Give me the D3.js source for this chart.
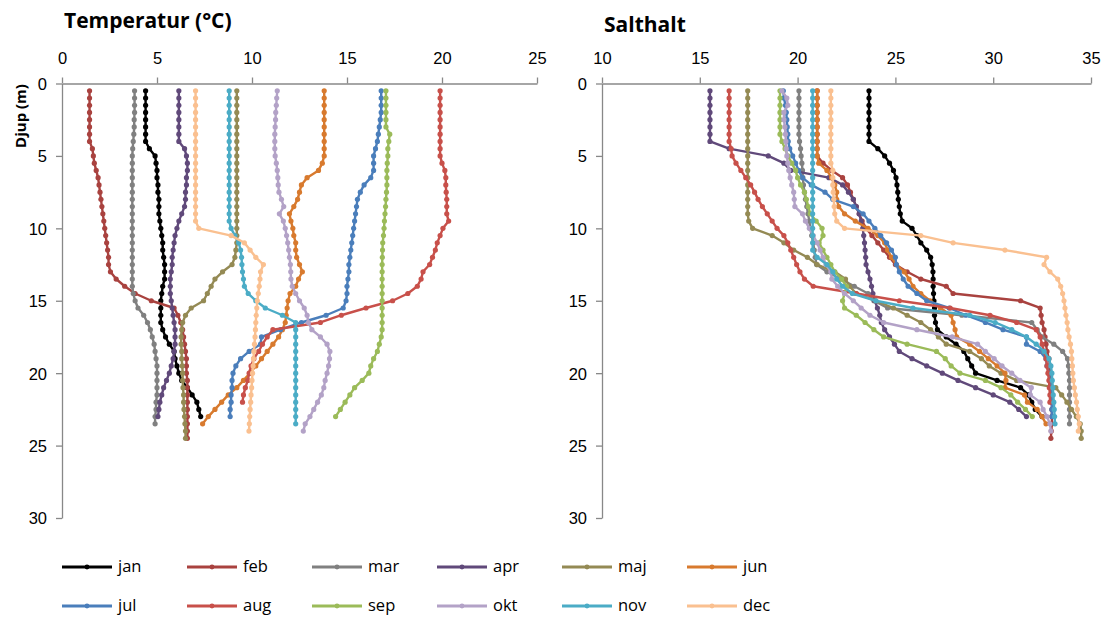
<!DOCTYPE html>
<html>
<head>
<meta charset="utf-8">
<script src="https://cdn.jsdelivr.net/npm/d3@7/dist/d3.min.js"></script>
<style>
  body { margin: 0; background: #fff; }
  svg { display: block; font-family: "Open Sans", Lato, sans-serif; }
  .axis path, .axis line { stroke: #888; stroke-width: 1.3; }
  .axis text { font-size: 16.5px; fill: #000; }
</style>
</head>
<body>
<svg id="chart" width="1107" height="622"></svg>
<script>
"use strict";

var months = ['jan', 'feb', 'mar', 'apr', 'maj', 'jun', 'jul', 'aug', 'sep', 'okt', 'nov', 'dec'];
var colors = ['#000000', '#A9423F', '#808080', '#60497A', '#948A54', '#D87A2E',
              '#4A7EBB', '#C8504A', '#9BBB59', '#B3A2C7', '#4BACC6', '#FAC090'];

// depth (m) of each measurement, 0.5 m steps
var depth = [0.5, 1, 1.5, 2, 2.5, 3, 3.5, 4, 4.5, 5, 5.5, 6, 6.5, 7, 7.5, 8, 8.5, 9, 9.5, 10,
             10.5, 11, 11.5, 12, 12.5, 13, 13.5, 14, 14.5, 15, 15.5, 16, 16.5, 17, 17.5, 18, 18.5, 19, 19.5, 20,
             20.5, 21, 21.5, 22, 22.5, 23, 23.5, 24, 24.5];

var tempTicks = [0, 5, 10, 15, 20, 25];
var saltTicks = [10, 15, 20, 25, 30, 35];
var depthTicks = [0, 5, 10, 15, 20, 25, 30];

// temperatur (°C)
var tJan = [4.4, 4.4, 4.4, 4.4, 4.4, 4.4, 4.4, 4.4, 4.6, 4.9, 4.95, 5.0, 5.0, 5.05, 5.05, 5.1, 5.1, 5.1, 5.15, 5.2,
            5.25, 5.3, 5.3, 5.35, 5.4, 5.4, 5.4, 5.3, 5.25, 5.2, 5.2, 5.2, 5.2, 5.3, 5.45, 5.65, 5.9, 5.95, 6.05, 6.15,
            6.3, 6.6, 6.85, 7.1, 7.2, 7.3];
var tFeb = [1.45, 1.45, 1.45, 1.45, 1.45, 1.45, 1.45, 1.45, 1.6, 1.65, 1.7, 1.8, 1.9, 1.95, 2.0, 2.05, 2.1, 2.15, 2.2, 2.25,
            2.3, 2.35, 2.4, 2.45, 2.45, 2.55, 2.85, 3.3, 3.85, 4.7, 5.9, 6.1, 6.25, 6.35, 6.4, 6.45, 6.5, 6.55, 6.55, 6.55,
            6.6, 6.6, 6.6, 6.6, 6.6, 6.6, 6.6, 6.6, 6.6];
var tMar = [3.82, 3.82, 3.82, 3.82, 3.8, 3.8, 3.78, 3.75, 3.72, 3.7, 3.7, 3.7, 3.7, 3.7, 3.7, 3.7, 3.7, 3.7, 3.7, 3.7,
            3.7, 3.7, 3.7, 3.7, 3.7, 3.7, 3.7, 3.7, 3.75, 3.85, 4.0, 4.3, 4.5, 4.65, 4.75, 4.85, 4.9, 4.95, 5.0, 5.0,
            5.0, 5.0, 5.0, 4.95, 4.95, 4.9, 4.9];
var tApr = [6.15, 6.15, 6.15, 6.15, 6.15, 6.15, 6.15, 6.15, 6.45, 6.55, 6.6, 6.6, 6.55, 6.55, 6.5, 6.5, 6.45, 6.3, 6.15, 6.05,
            5.95, 5.9, 5.85, 5.8, 5.8, 5.75, 5.7, 5.7, 5.7, 5.75, 5.8, 5.85, 5.9, 5.95, 5.95, 5.95, 5.9, 5.85, 5.75, 5.65,
            5.5, 5.35, 5.25, 5.15, 5.1, 5.05];
var tMaj = [9.2, 9.2, 9.2, 9.2, 9.2, 9.2, 9.2, 9.2, 9.2, 9.2, 9.2, 9.2, 9.2, 9.2, 9.2, 9.2, 9.2, 9.2, 9.2, 9.2,
            9.2, 9.2, 9.15, 9.1, 8.95, 8.45, 8.05, 7.85, 7.65, 7.45, 6.8, 6.5, 6.35, 6.3, 6.27, 6.27, 6.3, 6.3, 6.33, 6.35,
            6.35, 6.37, 6.4, 6.4, 6.42, 6.45, 6.47, 6.5, 6.5];
var tJun = [13.8, 13.8, 13.8, 13.8, 13.8, 13.8, 13.8, 13.8, 13.8, 13.8, 13.7, 13.5, 12.9, 12.6, 12.5, 12.4, 12.2, 11.97, 12.05, 12.15,
            12.2, 12.3, 12.3, 12.35, 12.5, 12.65, 12.45, 12.3, 12.0, 11.9, 11.85, 11.8, 11.75, 11.6, 11.4, 11.1, 10.8, 10.5, 10.2, 9.9,
            9.55, 9.2, 8.75, 8.4, 8.05, 7.7, 7.4];
var tJul = [16.8, 16.8, 16.8, 16.8, 16.75, 16.7, 16.65, 16.6, 16.5, 16.4, 16.4, 16.4, 16.25, 15.9, 15.7, 15.55, 15.5, 15.45, 15.4, 15.35,
            15.3, 15.25, 15.2, 15.15, 15.1, 15.1, 15.05, 15.0, 15.0, 14.95, 14.8, 13.9, 12.6, 11.5, 10.5, 10.45, 9.85, 9.4, 9.15, 9.0,
            8.95, 8.95, 8.9, 8.9, 8.85, 8.85];
var tAug = [19.9, 19.9, 19.9, 19.9, 19.9, 19.9, 19.9, 19.9, 19.9, 19.9, 20.0, 20.15, 20.2, 20.2, 20.22, 20.25, 20.25, 20.25, 20.35, 20.05,
            19.9, 19.75, 19.65, 19.5, 19.35, 19.0, 18.9, 18.7, 18.2, 17.4, 16.0, 14.7, 13.6, 11.1, 10.8, 10.55, 10.35, 10.1, 9.95, 9.85,
            9.78, 9.65, 9.55, 9.5];
var tSep = [17.05, 17.05, 17.05, 17.05, 17.05, 17.05, 17.25, 17.2, 17.15, 17.15, 17.12, 17.1, 17.1, 17.1, 17.08, 17.05, 17.03, 17.0, 16.97, 16.95,
            16.92, 16.88, 16.87, 16.86, 16.85, 16.85, 16.85, 16.85, 16.85, 16.85, 16.85, 16.85, 16.85, 16.85, 16.8, 16.7, 16.6, 16.4, 16.25, 16.15,
            15.8, 15.4, 15.15, 14.9, 14.65, 14.4];
var tOkt = [11.33, 11.3, 11.28, 11.25, 11.24, 11.22, 11.2, 11.2, 11.2, 11.22, 11.28, 11.33, 11.36, 11.38, 11.42, 11.55, 11.67, 11.44, 11.65, 11.75,
            11.82, 11.88, 11.93, 11.97, 12.02, 12.04, 12.05, 12.12, 12.3, 12.5, 12.75, 12.9, 12.97, 13.15, 13.6, 13.95, 14.1, 14.08, 14.03, 13.95,
            13.85, 13.78, 13.65, 13.45, 13.25, 13.05, 12.8, 12.7];
var tNov = [8.8, 8.8, 8.8, 8.8, 8.8, 8.8, 8.8, 8.8, 8.8, 8.8, 8.8, 8.8, 8.8, 8.8, 8.8, 8.8, 8.8, 8.8, 8.8, 8.9,
            9.1, 9.3, 9.4, 9.45, 9.47, 9.5, 9.55, 9.6, 9.8, 10.2, 10.7, 11.6, 12.3, 12.3, 12.3, 12.3, 12.3, 12.3, 12.3, 12.3,
            12.3, 12.3, 12.3, 12.3, 12.3, 12.3, 12.3];
var tDec = [7.03, 7.03, 7.03, 7.03, 7.03, 7.03, 7.03, 7.03, 7.03, 7.03, 7.03, 7.03, 7.03, 7.03, 7.03, 7.03, 7.03, 7.03, 7.03, 7.2,
            8.9, 9.6, 9.9, 10.2, 10.6, 10.45, 10.42, 10.38, 10.33, 10.28, 10.25, 10.22, 10.2, 10.18, 10.16, 10.13, 10.1, 10.08, 10.06, 10.03,
            10.0, 9.98, 9.95, 9.93, 9.9, 9.88, 9.86, 9.84];

// salthalt
var sJan = [23.65, 23.65, 23.65, 23.65, 23.65, 23.65, 23.65, 23.65, 24.1, 24.45, 24.7, 24.9, 25.03, 25.08, 25.12, 25.15, 25.2, 25.25, 25.35, 25.85,
            26.1, 26.3, 26.6, 26.8, 26.88, 26.92, 26.93, 26.93, 26.95, 26.97, 27.0, 27.0, 27.05, 27.15, 27.6, 28.1, 28.5, 28.7, 28.9, 29.1,
            30.2, 31.4, 31.8, 31.97, 32.15, 32.5];
var sFeb = [21.0, 21.0, 21.0, 21.0, 21.0, 21.0, 21.0, 21.0, 21.0, 21.0, 21.3, 21.75, 22.3, 22.55, 22.7, 22.85, 23.0, 23.15, 23.3, 23.5,
            23.8, 24.1, 24.4, 24.7, 25.0, 25.6, 26.3, 27.6, 27.95, 31.4, 32.4, 32.45, 32.5, 32.6, 32.65, 32.7, 32.75, 32.85, 32.9, 32.92,
            32.95, 32.97, 33.0, 33.0, 33.0, 33.0, 33.0, 32.97, 32.95];
var sMar = [20.07, 20.07, 20.07, 20.07, 20.07, 20.07, 20.07, 20.1, 20.15, 20.18, 20.22, 20.25, 20.27, 20.3, 20.35, 20.4, 20.47, 20.53, 20.6, 20.65,
            20.72, 20.8, 20.85, 20.9, 20.97, 21.5, 22.2, 22.9, 23.6, 23.9, 24.6, 28.4, 31.97, 32.25, 32.5, 33.1, 33.55, 33.8, 33.85, 33.87,
            33.9, 33.9, 33.9, 33.9, 33.9, 33.9, 33.9];
var sApr = [15.52, 15.52, 15.52, 15.52, 15.52, 15.52, 15.52, 15.52, 16.5, 18.5, 19.3, 19.65, 21.6, 22.3, 22.6, 22.85, 23.0, 23.15, 23.25, 23.33,
            23.38, 23.42, 23.45, 23.48, 23.5, 23.6, 23.7, 23.78, 23.85, 23.95, 24.08, 24.2, 24.28, 24.45, 24.7, 24.95, 25.2, 25.85, 26.6, 27.4,
            28.2, 29.1, 30.0, 30.85, 31.3, 31.7];
var sMaj = [17.45, 17.45, 17.45, 17.45, 17.45, 17.45, 17.45, 17.45, 17.45, 17.45, 17.45, 17.45, 17.45, 17.45, 17.45, 17.45, 17.45, 17.45, 17.5, 17.7,
            18.7, 19.3, 19.8, 20.5, 21.0, 21.9, 22.45, 22.65, 23.0, 24.0, 24.9, 25.6, 26.3, 26.8, 27.2, 27.6, 28.8, 29.4, 29.8, 30.4,
            31.2, 33.2, 33.5, 33.77, 34.0, 34.25, 34.45, 34.5, 34.5];
var sJun = [21.0, 21.0, 21.0, 21.0, 21.0, 21.0, 21.0, 21.0, 21.0, 21.0, 21.08, 21.5, 21.74, 21.9, 22.0, 22.0, 22.1, 22.4, 22.95, 23.6,
            24.1, 24.45, 24.6, 24.8, 25.05, 25.45, 25.7, 25.9, 26.3, 26.77, 27.3, 27.85, 27.95, 28.05, 28.13, 28.8, 29.3, 29.75, 30.2, 30.6,
            30.65, 30.6, 31.6, 31.75, 32.25, 32.5, 32.7];
var sJul = [19.27, 19.3, 19.38, 19.42, 19.45, 19.47, 19.5, 19.52, 19.6, 19.75, 19.9, 20.05, 20.25, 20.7, 21.4, 21.8, 22.85, 23.35, 23.65, 23.95,
            24.25, 24.55, 24.8, 25.0, 25.05, 25.2, 25.4, 25.65, 26.1, 26.6, 27.75, 28.6, 29.6, 30.5, 31.7, 31.7, 32.4, 32.7, 32.75, 32.85,
            32.9, 32.95, 32.97, 33.0, 33.0, 33.0];
var sAug = [16.5, 16.5, 16.5, 16.5, 16.5, 16.5, 16.5, 16.5, 16.6, 16.65, 16.85, 17.1, 17.35, 17.6, 17.8, 17.98, 18.2, 18.45, 18.7, 18.95,
            19.3, 19.5, 19.65, 19.8, 19.95, 20.12, 20.35, 20.8, 23.0, 25.2, 27.8, 29.84, 31.2, 32.2, 32.4, 32.5, 32.6, 32.7, 32.75, 32.8,
            32.85, 32.87, 32.9, 32.9];
var sSep = [19.1, 19.1, 19.1, 19.1, 19.1, 19.1, 19.1, 19.2, 19.36, 19.5, 19.7, 19.9, 20.0, 20.15, 20.35, 20.45, 20.55, 20.65, 20.95, 21.25,
            21.3, 21.1, 21.3, 21.5, 21.7, 21.9, 22.25, 22.5, 22.4, 22.3, 22.4, 23.0, 23.45, 23.9, 24.4, 25.6, 27.1, 27.55, 27.85, 28.3,
            29.6, 30.4, 30.9, 31.25, 31.65, 32.0];
var sOkt = [19.2, 19.45, 19.5, 19.3, 19.3, 19.35, 19.38, 19.4, 19.42, 19.45, 19.5, 19.55, 19.62, 19.7, 19.8, 19.83, 19.86, 20.25, 20.4, 20.6,
            20.8, 21.0, 21.15, 21.3, 21.45, 21.7, 21.75, 22.05, 22.4, 22.85, 23.25, 23.7, 24.4, 26.1, 27.9, 29.2, 29.6, 30.05, 30.45, 30.95,
            31.37, 31.95, 31.9, 32.4, 32.55, 32.75, 32.9, 32.95];
var sNov = [20.77, 20.77, 20.77, 20.77, 20.77, 20.77, 20.77, 20.77, 20.77, 20.77, 20.77, 20.77, 20.77, 20.77, 20.77, 20.77, 20.77, 20.77, 20.77, 20.77,
            20.77, 20.77, 20.77, 21.0, 21.5, 21.8, 22.0, 22.3, 22.8, 24.0, 25.9, 28.8, 30.1, 30.95, 31.7, 32.2, 32.6, 32.85, 32.95, 33.0,
            33.02, 33.05, 33.07, 33.1, 33.12, 33.14, 33.16];
var sDec = [21.7, 21.7, 21.7, 21.7, 21.7, 21.7, 21.7, 21.7, 21.7, 21.7, 21.7, 21.8, 21.8, 21.8, 21.82, 21.85, 21.87, 21.9, 22.0, 22.4,
            26.3, 27.95, 30.6, 32.73, 32.6, 32.9, 33.3, 33.45, 33.55, 33.62, 33.67, 33.72, 33.78, 33.82, 33.88, 33.95, 34.0, 34.02, 34.05, 34.07,
            34.1, 34.15, 34.2, 34.26, 34.3, 34.35, 34.4, 34.35];

var tempSeries = [tJan, tFeb, tMar, tApr, tMaj, tJun, tJul, tAug, tSep, tOkt, tNov, tDec];
var saltSeries = [sJan, sFeb, sMar, sApr, sMaj, sJun, sJul, sAug, sSep, sOkt, sNov, sDec];

var svg = d3.select('#chart');

var y = d3.scaleLinear().domain([0, 30]).range([83.5, 518]);

function draw_panel(series, domain, ticks, left, right, title, titleY) {
    var x = d3.scaleLinear().domain(domain).range([left, right]);
    var g = svg.append('g');

    var gx = g.append('g').attr('class', 'axis')
        .attr('transform', 'translate(0,' + y(0) + ')')
        .call(d3.axisTop(x).tickValues(ticks).tickSize(6).tickSizeOuter(0).tickPadding(15));
    gx.selectAll('text').attr('dy', '0.1em');
    var gy = g.append('g').attr('class', 'axis')
        .attr('transform', 'translate(' + left + ',0)')
        .call(d3.axisLeft(y).tickValues(depthTicks).tickSize(6).tickSizeOuter(0).tickPadding(9));
    gy.selectAll('text').attr('dy', '0.36em');

    var line = d3.line()
        .x(function (d) { return x(d[1]); })
        .y(function (d) { return y(d[0]); });

    for (var i = 0; i < series.length; i++) {
        var pts = series[i].map(function (v, j) { return [depth[j], v]; });
        var sg = g.append('g');
        sg.append('path').datum(pts)
            .attr('d', line)
            .attr('fill', 'none')
            .attr('stroke', colors[i])
            .attr('stroke-width', 2.4)
            .attr('stroke-linejoin', 'round');
        sg.selectAll('circle').data(pts).enter().append('circle')
            .attr('cx', function (d) { return x(d[1]); })
            .attr('cy', function (d) { return y(d[0]); })
            .attr('r', 2.6)
            .attr('fill', colors[i]);
    }

    svg.append('text')
        .attr('x', left + 2).attr('y', titleY)
        .style('font-weight', 'bold').style('font-size', '21px')
        .text(title);
}

draw_panel(tempSeries, [0, 25], tempTicks, 62, 537, 'Temperatur (°C)', 28);
draw_panel(saltSeries, [10, 35], saltTicks, 602, 1091, 'Salthalt', 32);

svg.append('text')
    .attr('transform', 'translate(26,116) rotate(-90)')
    .attr('text-anchor', 'middle')
    .style('font-weight', 'bold').style('font-size', '15px')
    .text('Djup (m)');

// legend
var legendG = svg.append('g');
for (var k = 0; k < months.length; k++) {
    var lx = 62 + (k % 6) * 125;
    var ly = k < 6 ? 567 : 606;
    var lg = legendG.append('g').attr('transform', 'translate(' + lx + ',' + ly + ')');
    lg.append('line').attr('x1', 0).attr('x2', 50)
        .attr('stroke', colors[k]).attr('stroke-width', 2.8);
    lg.append('circle').attr('cx', 25).attr('r', 2.4).attr('fill', colors[k]);
    lg.append('text').attr('x', 56).attr('dy', '0.33em')
        .style('font-size', '16.5px').text(months[k]);
}
</script>
</body>
</html>
